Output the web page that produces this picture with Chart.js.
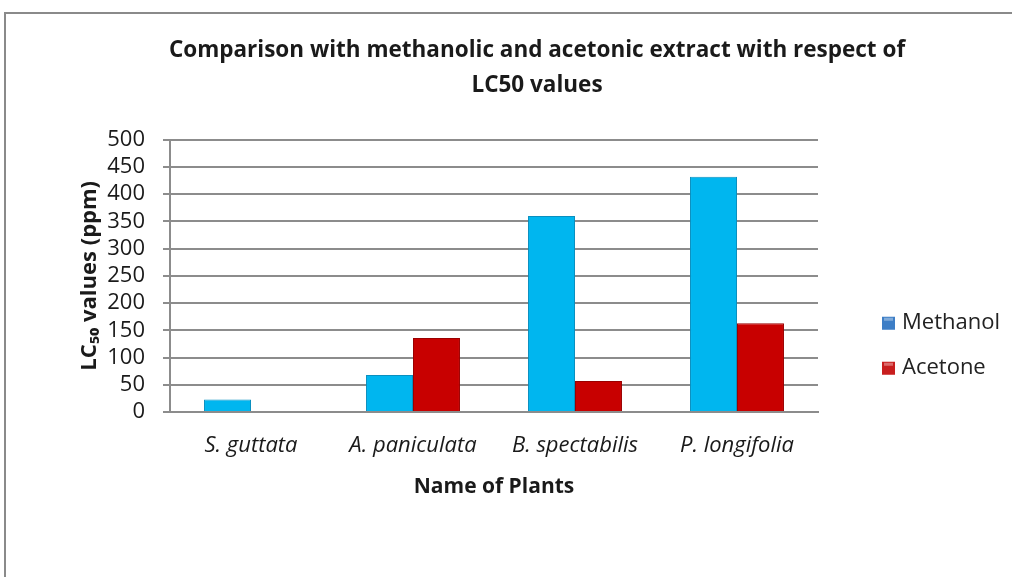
<!DOCTYPE html>
<html>
<head>
<meta charset="utf-8">
<script src="https://cdn.jsdelivr.net/npm/chart.js@4/dist/chart.umd.min.js"></script>
<style>
  html, body { margin: 0; padding: 0; background: #fff; overflow: hidden; width: 1012px; height: 577px; }
  #frame { position: absolute; left: 4px; top: 12px; width: 1100px; height: 700px; border: 2px solid #8a8a8a; box-sizing: border-box; }
  #wrap { position: absolute; left: 0; top: 0; width: 1012px; height: 577px; }
</style>
</head>
<body>
<div id="frame"></div>
<div id="wrap"><canvas id="c" width="1012" height="577"></canvas></div>
<script>
const categories = ["S. guttata", "A. paniculata", "B. spectabilis", "P. longifolia"];
const methanolValues = [23, 68, 360, 432];
const acetoneValues = [0, 136, 57, 163];
const seriesNames = ["Methanol", "Acetone"];
const yTicks = [0, 50, 100, 150, 200, 250, 300, 350, 400, 450, 500];
const titleLines = ["Comparison with methanolic and acetonic extract with respect of", "LC50 values"];

const FONT = "'Open Sans', 'DejaVu Sans', sans-serif";
const barColors = ["#00B6EF", "#C80000"];
const barBorders = ["#0A8FBF", "#9A0000"];
const legendColors = ["#3D7EC6", "#C81E1E"];
const gridColor = "#8c8c8c";

const legendPlugin = {
  id: 'sideLegend',
  afterDraw(chart) {
    const ctx = chart.ctx;
    const area = chart.chartArea;
    const x0 = area.right + 64;
    const yStart = area.top + 183;
    const gap = 45;
    ctx.save();
    ctx.font = "22px " + FONT;
    ctx.textBaseline = 'middle';
    ctx.textAlign = 'left';
    chart.data.datasets.forEach((ds, i) => {
      const y = yStart + i * gap;
      ctx.fillStyle = legendColors[i];
      ctx.fillRect(x0, y - 6, 13, 13);
      ctx.fillStyle = 'rgba(255,255,255,0.35)';
      ctx.fillRect(x0 + 2, y - 5, 9, 3);
      ctx.fillStyle = '#222';
      ctx.fillText(ds.label, x0 + 20, y);
    });
    ctx.restore();
  }
};

new Chart(document.getElementById('c'), {
  type: 'bar',
  data: {
    labels: categories,
    datasets: [
      { label: seriesNames[0], data: methanolValues, backgroundColor: barColors[0], borderColor: barBorders[0], borderWidth: 1 },
      { label: seriesNames[1], data: acetoneValues, backgroundColor: barColors[1], borderColor: barBorders[1], borderWidth: 1 }
    ]
  },
  options: {
    responsive: false,
    animation: false,
    devicePixelRatio: 1,
    layout: { padding: { left: 62, right: 0, top: 0, bottom: 0 } },
    datasets: { bar: { barPercentage: 1.0, categoryPercentage: 0.58 } },
    plugins: {
      legend: { display: false },
      tooltip: { enabled: false },
      title: {
        display: true,
        text: titleLines,
        color: '#1a1a1a',
        font: { family: FONT, size: 22.5, weight: 'bold', lineHeight: 1.55 },
        padding: { top: 33, bottom: 37 }
      }
    },
    scales: {
      x: {
        grid: { display: false, drawTicks: false },
        border: { display: true, color: gridColor, width: 2 },
        ticks: {
          color: '#1a1a1a',
          font: { family: FONT, size: 22, style: 'italic' },
          padding: 21,
          maxRotation: 0, autoSkip: false
        },
        title: {
          display: true,
          text: 'Name of Plants',
          color: '#1a1a1a',
          font: { family: FONT, size: 21, weight: 'bold', lineHeight: 1.2 },
          padding: { top: 0, bottom: 77 }
        },
        afterFit(s) { s.height = 165; }
      },
      y: {
        min: 0, max: 500,
        afterBuildTicks(s) { s.ticks = yTicks.map(v => ({ value: v })); },
        grid: { color: gridColor, lineWidth: 2, drawTicks: true, tickLength: 7, tickColor: gridColor },
        border: { display: true, color: gridColor, width: 2 },
        ticks: {
          color: '#1a1a1a',
          font: { family: FONT, size: 22, lineHeight: 1.0 },
          padding: 18,
          stepSize: 50,
          autoSkip: false
        },
        title: {
          display: true,
          text: 'LC\u2085\u2080 values (ppm)',
          color: '#1a1a1a',
          font: { family: FONT, size: 22, weight: 'bold', lineHeight: 1.2 },
          padding: { top: 15, bottom: 0 }
        },
        afterFit(s) { s.width = 108; }
      },
      yRight: {
        type: 'linear',
        position: 'right',
        display: true,
        grid: { display: false, drawTicks: false },
        border: { display: false },
        ticks: { display: false },
        afterFit(s) { s.width = 194; }
      }
    }
  },
  plugins: [legendPlugin]
});
</script>
</body>
</html>
